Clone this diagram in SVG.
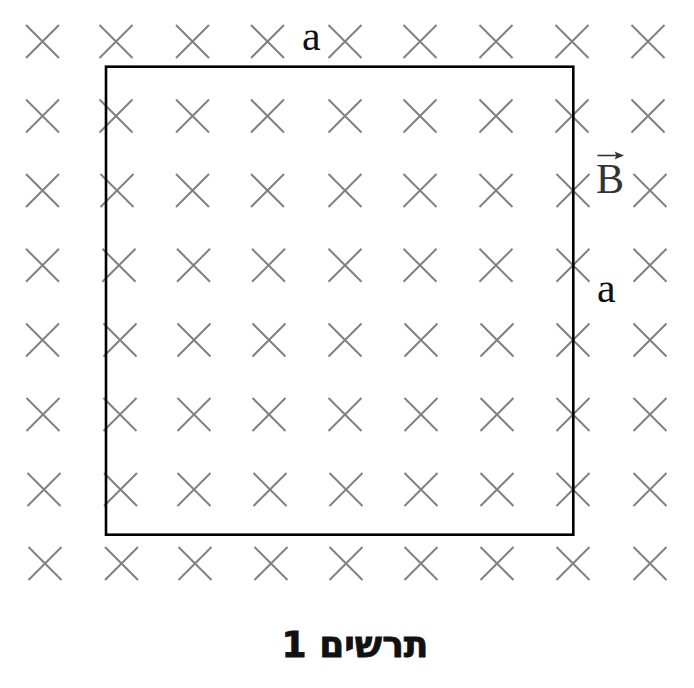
<svg xmlns="http://www.w3.org/2000/svg" width="694" height="688" viewBox="0 0 694 688">
<style>
.x{stroke:#808080;stroke-width:2;fill:none}
.loop{fill:none;stroke:#000;stroke-width:2.6}
.lbl{font-family:"Liberation Serif","Times New Roman",serif;font-size:42px;fill:#111}
.cap{font-family:"DejaVu Sans","Liberation Sans",sans-serif;font-weight:bold;font-size:36px;fill:#111;stroke:#111;stroke-width:0.8}
</style>
<defs>
<path id="xm" class="x" d="M-16.5,-16.5L16.5,16.5M16.5,-16.5L-16.5,16.5"/>
</defs>
<g id="field">
<g id="row1"><use href="#xm" x="42.5" y="41.5"/><use href="#xm" x="116" y="41.5"/><use href="#xm" x="192.5" y="41.5"/><use href="#xm" x="267.5" y="41.5"/><use href="#xm" x="345" y="41.5"/><use href="#xm" x="420" y="41.5"/><use href="#xm" x="496" y="41.5"/><use href="#xm" x="572" y="41.5"/><use href="#xm" x="648" y="41.5"/></g>
<g id="row2"><use href="#xm" x="42.5" y="116"/><use href="#xm" x="116" y="116"/><use href="#xm" x="192.5" y="116"/><use href="#xm" x="267.5" y="116"/><use href="#xm" x="345" y="116"/><use href="#xm" x="420" y="116"/><use href="#xm" x="496" y="116"/><use href="#xm" x="572" y="116"/><use href="#xm" x="648" y="116"/></g>
<g id="row3"><use href="#xm" x="42.5" y="190.5"/><use href="#xm" x="117" y="190.5"/><use href="#xm" x="192.5" y="190.5"/><use href="#xm" x="267.5" y="190.5"/><use href="#xm" x="345" y="190.5"/><use href="#xm" x="420" y="190.5"/><use href="#xm" x="496" y="190.5"/><use href="#xm" x="573" y="190.5"/><use href="#xm" x="650" y="190.5"/></g>
<g id="row4"><use href="#xm" x="42.5" y="265.3"/><use href="#xm" x="119" y="265.3"/><use href="#xm" x="193.5" y="265.3"/><use href="#xm" x="268.5" y="265.3"/><use href="#xm" x="345" y="265.3"/><use href="#xm" x="420" y="265.3"/><use href="#xm" x="496" y="265.3"/><use href="#xm" x="573" y="265.3"/><use href="#xm" x="650" y="265.3"/></g>
<g id="row5"><use href="#xm" x="42.5" y="340"/><use href="#xm" x="120" y="340"/><use href="#xm" x="194" y="340"/><use href="#xm" x="269" y="340"/><use href="#xm" x="345" y="340"/><use href="#xm" x="421" y="340"/><use href="#xm" x="497" y="340"/><use href="#xm" x="573" y="340"/><use href="#xm" x="650" y="340"/></g>
<g id="row6"><use href="#xm" x="43" y="414.5"/><use href="#xm" x="120" y="414.5"/><use href="#xm" x="194" y="414.5"/><use href="#xm" x="269" y="414.5"/><use href="#xm" x="345" y="414.5"/><use href="#xm" x="421" y="414.5"/><use href="#xm" x="497" y="414.5"/><use href="#xm" x="573" y="414.5"/><use href="#xm" x="650" y="414.5"/></g>
<g id="row7"><use href="#xm" x="44" y="489.5"/><use href="#xm" x="120.5" y="489.5"/><use href="#xm" x="194" y="489.5"/><use href="#xm" x="270" y="489.5"/><use href="#xm" x="346" y="489.5"/><use href="#xm" x="421" y="489.5"/><use href="#xm" x="497" y="489.5"/><use href="#xm" x="573" y="489.5"/><use href="#xm" x="650" y="489.5"/></g>
<g id="row8"><use href="#xm" x="45" y="563.5"/><use href="#xm" x="121.5" y="563.5"/><use href="#xm" x="195" y="563.5"/><use href="#xm" x="271" y="563.5"/><use href="#xm" x="346" y="563.5"/><use href="#xm" x="421" y="563.5"/><use href="#xm" x="497" y="563.5"/><use href="#xm" x="573" y="563.5"/><use href="#xm" x="650" y="563.5"/></g>
</g>
<g id="loop"><rect class="loop" x="106" y="66.7" width="467.3" height="468"/></g>
<g id="connectors"></g>
<g id="label-a-top"><text class="lbl" x="302" y="50">a</text></g>
<g id="label-a-side"><text class="lbl" x="597" y="302">a</text></g>
<g id="label-B">
<text class="lbl" x="596" y="193" style="fill:#333">B</text>
<path d="M597.5,155.5H619" stroke="#333" stroke-width="1.6"/>
<path d="M624,155.5L614.5,151.5L616.5,155.5L614.5,159.5Z" fill="#333"/>
</g>
<g id="caption"><text class="cap" x="355" y="657" text-anchor="middle">תרשים 1</text></g>
</svg>
